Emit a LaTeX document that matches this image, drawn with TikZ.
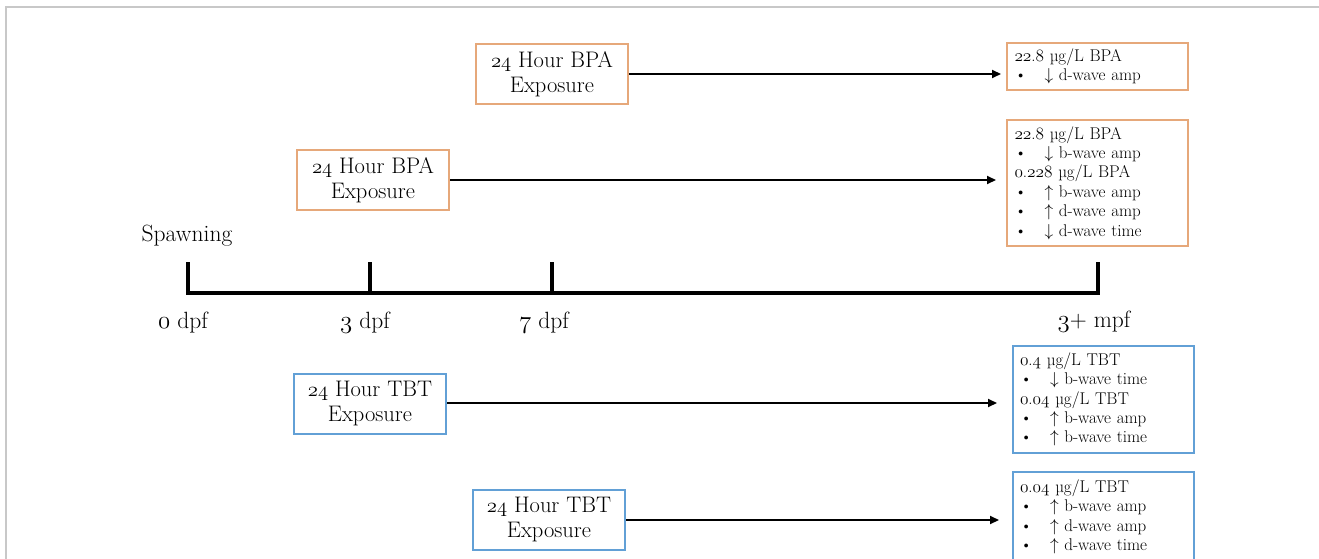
\documentclass[tikz,border=0pt]{standalone}
\usetikzlibrary{arrows.meta}
\definecolor{bpaC}{RGB}{230,168,122}
\definecolor{tbtC}{RGB}{98,160,214}
\definecolor{frameC}{RGB}{200,200,200}
\newcommand{\os}[1]{\legacyoldstylenums{#1}}
\newcommand{\bl}{\makebox[30pt][l]{\textbullet}}
\newcommand{\dn}{$\downarrow$\ }
\newcommand{\up}{$\uparrow$\ }
\newcommand{\mug}{\symbol{"00B5}g/L}
\tikzset{
  expbox/.style={draw, line width=2pt, minimum width=152pt, minimum height=60pt, align=center, inner sep=2pt, font=\fontsize{22.5}{25}\selectfont},
  resbox/.style={draw, line width=2pt, minimum width=181pt, align=left, text width=166pt, inner sep=0pt, font=\fontsize{17}{19.4}\selectfont},
  arr/.style={line width=2pt, -{Triangle[length=9pt,width=8pt]}},
  axis/.style={line width=4.5pt, line cap=butt, line join=miter},
  lab/.style={font=\fontsize{23.5}{26}\selectfont, inner sep=0pt}
}
\begin{document}
\begin{tikzpicture}[x=1pt,y=-1pt]
\useasboundingbox (0,0) rectangle (1319,559);
\draw[frameC, line width=1.5pt] (1319,7) -- (6,7) -- (6,559);
% exposure boxes
\node[expbox, draw=bpaC] (b1) at (552,74) {\os{24} Hour BPA\\Exposure};
\node[expbox, draw=bpaC] (b2) at (373,180) {\os{24} Hour BPA\\Exposure};
\node[expbox, draw=tbtC] (t1) at (370,404) {\os{24} Hour TBT\\Exposure};
\node[expbox, draw=tbtC] (t2) at (549,520) {\os{24} Hour TBT\\Exposure};
% result boxes
\node[resbox, draw=bpaC, minimum height=47pt] (r1) at (1097.5,66.5) {\os{22}.\os{8} \mug{} BPA\\ \bl\dn d-wave amp};
\node[resbox, draw=bpaC, minimum height=126pt] (r2) at (1097.5,183) {\os{22}.\os{8} \mug{} BPA\\ \bl\dn b-wave amp\\ \os{0}.\os{228} \mug{} BPA\\ \bl\up b-wave amp\\ \bl\up d-wave amp\\ \bl\dn d-wave time};
\node[resbox, draw=tbtC, minimum height=107pt] (r3) at (1103,399.5) {\os{0}.\os{4} \mug{} TBT\\ \bl\dn b-wave time\\ \os{0}.\os{04} \mug{} TBT\\ \bl\up b-wave amp\\ \bl\up b-wave time};
\node[resbox, draw=tbtC, minimum height=90pt] (r4) at (1103,517) {\os{0}.\os{04} \mug{} TBT\\ \bl\up b-wave amp\\ \bl\up d-wave amp\\ \bl\up d-wave time};
% arrows
\coordinate (e1) at (1001,74);
\coordinate (e2) at (996,180);
\coordinate (e3) at (997,403);
\coordinate (e4) at (999,520);
\draw[arr] (b1.east) -- (e1);
\draw[arr] (b2.east) -- (e2);
\draw[arr] (t1.east |- e3) -- (e3);
\draw[arr] (t2.east) -- (e4);
% timeline
\coordinate (p0) at (188,262);
\coordinate (p1) at (370,262);
\coordinate (p2) at (552,262);
\coordinate (p3) at (1098,262);
\draw[axis] (p0) -- (188,293) -- (1098,293) -- (p3);
\draw[axis] (p1) -- (370,293);
\draw[axis] (p2) -- (552,293);
\node[lab] (sp) at (187,236) {Spawning};
\node[lab] (l0) at (183,323) {\os{0} dpf};
\node[lab] (l3) at (365,323) {\os{3} dpf};
\node[lab] (l7) at (544,323) {\os{7} dpf};
\node[lab] (lm) at (1094,322) {\os{3}+ mpf};
\end{tikzpicture}
\end{document}
